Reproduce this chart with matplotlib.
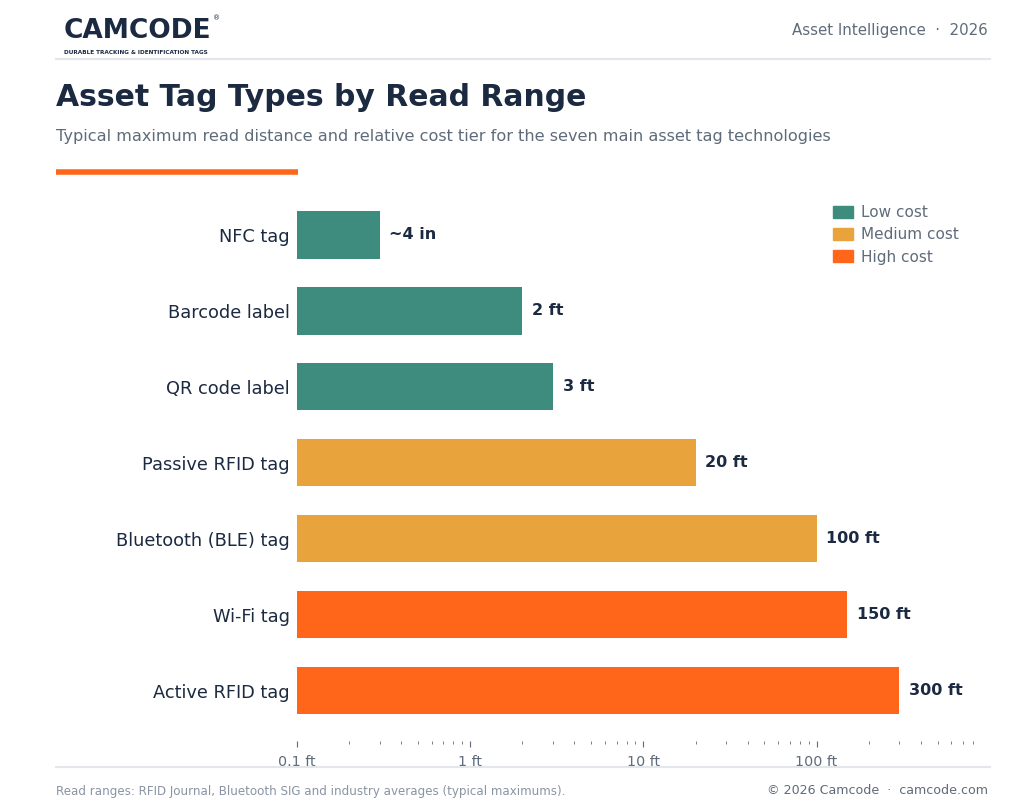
import matplotlib.pyplot as plt
from matplotlib.patches import Patch
from matplotlib.ticker import LogLocator, FixedLocator

# data
tags = ["NFC tag", "Barcode label", "QR code label", "Passive RFID tag",
        "Bluetooth (BLE) tag", "Wi-Fi tag", "Active RFID tag"]
read_range_ft = [0.3, 2, 3, 20, 100, 150, 300]
value_labels = ["~4 in", "2 ft", "3 ft", "20 ft", "100 ft", "150 ft", "300 ft"]
cost_tier = ["Low", "Low", "Low", "Medium", "Medium", "High", "High"]
tick_values = [0.1, 1, 10, 100]
tick_labels = ["0.1 ft", "1 ft", "10 ft", "100 ft"]

tier_colors = {"Low": "#3D8C7D", "Medium": "#E8A33D", "High": "#FF661A"}
NAVY = "#1B2A41"
GRAY = "#5F6B7A"
LIGHT = "#8A94A3"
X_MIN = 0.1

W, H = 1024, 809
fig = plt.figure(figsize=(W / 100, H / 100), dpi=100)
fig.patch.set_facecolor("white")


def fx(px):
    return px / W


def fy(py):
    return 1 - py / H


# header
fig.text(fx(64), fy(31), "CAMCODE", fontsize=19, fontweight="bold", color=NAVY,
         va="center", ha="left")
fig.text(fx(213), fy(18), "®", fontsize=5, color=NAVY, va="center", ha="left")
fig.text(fx(64), fy(52), "DURABLE TRACKING & IDENTIFICATION TAGS", fontsize=4.15,
         fontweight="bold", color=NAVY, va="center", ha="left")
fig.text(fx(988), fy(31), "Asset Intelligence  \u00b7  2026", fontsize=10.8, color=GRAY,
         va="center", ha="right")
fig.add_artist(plt.Line2D([fx(56), fx(990)], [fy(59), fy(59)], color="#E3E6EA", lw=1.5))

# titles
fig.text(fx(56), fy(97), "Asset Tag Types by Read Range", fontsize=21.5, fontweight="bold",
         color=NAVY, va="center", ha="left")
fig.text(fx(56), fy(136), "Typical maximum read distance and relative cost tier for the "
         "seven main asset tag technologies", fontsize=11.6, color=GRAY, va="center", ha="left")
fig.add_artist(plt.Line2D([fx(56), fx(298)], [fy(172), fy(172)], color="#FF661A", lw=4,
                          solid_capstyle="butt"))

# chart
ax = fig.add_axes([fx(297), fy(741), fx(973) - fx(297), (741 - 197) / H])
ypos = list(range(len(tags)))
colors = [tier_colors[c] for c in cost_tier]
widths = [v - X_MIN for v in read_range_ft]
ax.barh(ypos, widths, height=0.62, left=X_MIN, color=colors)
ax.set_xscale("log")
ax.set_xlim(X_MIN, 800)
ax.set_ylim(6.66, -0.5)
ax.set_yticks(ypos)
ax.set_yticklabels(tags, fontsize=12.8, color=NAVY)
ax.tick_params(axis="y", length=0, pad=5)
ax.xaxis.set_major_locator(FixedLocator(tick_values))
ax.set_xticklabels(tick_labels)
ax.xaxis.set_minor_locator(LogLocator(base=10, subs=range(2, 10)))
ax.tick_params(axis="x", which="major", length=4, color="#5F6B7A", labelsize=10.3,
               labelcolor=GRAY, pad=6)
ax.tick_params(axis="x", which="minor", length=2, color="#5F6B7A")
for s in ax.spines.values():
    s.set_visible(False)

for y, v, lab in zip(ypos, read_range_ft, value_labels):
    ax.annotate(lab, (v, y), xytext=(7, 0), textcoords="offset points", va="center",
                ha="left", fontsize=11.5, fontweight="bold", color=NAVY)

handles = [Patch(color=tier_colors[t]) for t in ["Low", "Medium", "High"]]
leg = fig.legend(handles, ["Low cost", "Medium cost", "High cost"], loc="upper left",
                 bbox_to_anchor=(fx(821), fy(193)), frameon=False, fontsize=11,
                 handlelength=1.3, handleheight=0.85, labelspacing=0.47, handletextpad=0.55,
                 borderpad=0.3)
for t in leg.get_texts():
    t.set_color(GRAY)

# footer
fig.add_artist(plt.Line2D([fx(56), fx(990)], [fy(767), fy(767)], color="#E3E6EA", lw=1.5))
fig.text(fx(56), fy(791), "Read ranges: RFID Journal, Bluetooth SIG and industry averages "
         "(typical maximums).", fontsize=8.55, color=LIGHT, va="center", ha="left")
fig.text(fx(988), fy(791), "\u00a9 2026 Camcode  \u00b7  camcode.com", fontsize=9.05,
         color=GRAY, va="center", ha="right")

fig.savefig("out.png", dpi=100)
